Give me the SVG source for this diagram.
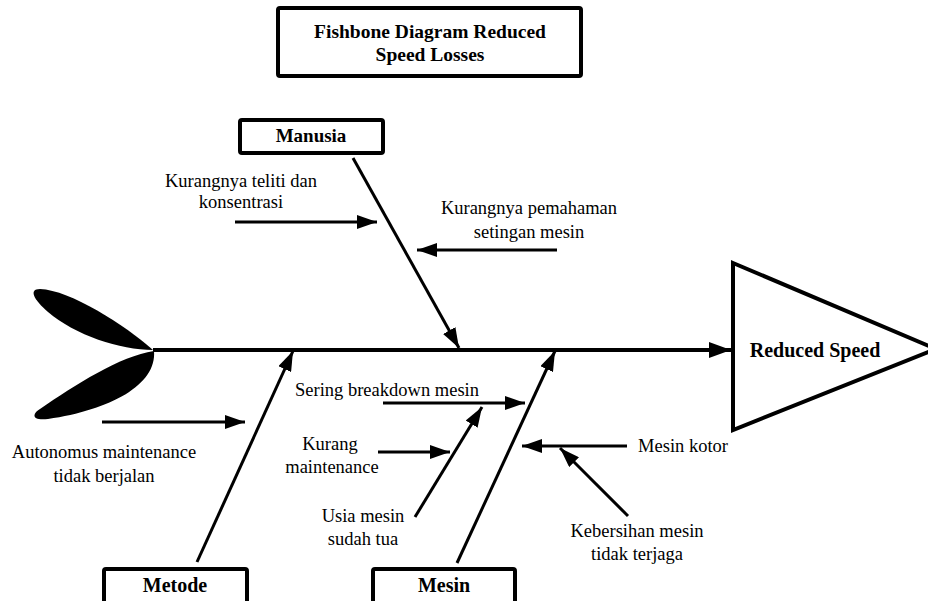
<svg xmlns="http://www.w3.org/2000/svg" width="928" height="601" viewBox="0 0 928 601">
<defs>
<style>
.box{fill:#fff;stroke:#000;stroke-width:4}
.bt{font-family:"Liberation Serif",serif;font-weight:bold;font-size:20px;text-anchor:middle;fill:#000}
.lt{font-family:"Liberation Serif",serif;font-size:18.5px;text-anchor:middle;fill:#000}
.bone{stroke:#000;stroke-width:3;fill:none;marker-end:url(#ah)}
.spine{stroke:#000;stroke-width:4;fill:none;marker-end:url(#ahb)}
</style>
<marker id="ah" markerUnits="userSpaceOnUse" markerWidth="20" markerHeight="14" refX="20" refY="7" orient="auto">
<path d="M0,0 L20,7 L0,14 Z" fill="#000"/>
</marker>
<marker id="ahb" markerUnits="userSpaceOnUse" markerWidth="22" markerHeight="16" refX="22" refY="8" orient="auto">
<path d="M0,0 L22,8 L0,16 Z" fill="#000"/>
</marker>
</defs>
<rect width="928" height="601" fill="#fff"/>

<g id="title">
<rect class="box" x="278" y="8" width="303" height="68" rx="2"/>
<text class="bt" x="430" y="38" style="font-size:19.5px">Fishbone Diagram Reduced</text>
<text class="bt" x="430" y="61" style="font-size:19.5px">Speed Losses</text>
</g>

<g id="tail">
<path d="M153,350 C125,325 70,290 40,289 C28,289 34,300 48,312 C75,335 120,350 153,350 Z" fill="#000"/>
<path d="M154,351 C157,385 110,410 48,419 C30,421 33,413 40,409 C75,385 120,356 154,351 Z" fill="#000"/>
</g>

<g id="head">
<path d="M733,263 L936,349 L733,430 Z" fill="#fff" stroke="#000" stroke-width="4" stroke-linejoin="miter"/>
<text class="bt" x="815" y="357">Reduced Speed</text>
</g>

<g id="manusia">
<rect class="box" x="240" y="120" width="143" height="33" rx="2"/>
<text class="bt" x="311" y="142" style="font-size:19px">Manusia</text>
</g>

<g id="metode">
<rect class="box" x="104" y="569" width="143" height="40" rx="2"/>
<text class="bt" x="175" y="592">Metode</text>
</g>

<g id="mesin">
<rect class="box" x="373" y="569" width="142" height="40" rx="2"/>
<text class="bt" x="444" y="592">Mesin</text>
</g>

<g id="connectors">
<line class="spine" x1="153" y1="350" x2="731" y2="350"/>
<line class="bone" x1="353" y1="158" x2="459" y2="348"/>
<line class="bone" x1="197" y1="562" x2="293" y2="351"/>
<line class="bone" x1="457" y1="563" x2="555" y2="351"/>
<line class="bone" x1="235" y1="222" x2="377" y2="222"/>
<line class="bone" x1="557" y1="250" x2="417" y2="250"/>
<line class="bone" x1="102" y1="422" x2="245" y2="422"/>
<line class="bone" x1="383" y1="403" x2="525" y2="403"/>
<line class="bone" x1="378" y1="452" x2="450" y2="452"/>
<line class="bone" x1="415" y1="517" x2="482" y2="407"/>
<line class="bone" x1="627" y1="446" x2="522" y2="446"/>
<line class="bone" x1="628" y1="516" x2="560" y2="448"/>
</g>

<g id="labels">
<text class="lt" x="241" y="187">Kurangnya teliti dan</text>
<text class="lt" x="241" y="208">konsentrasi</text>
<text class="lt" x="529" y="214">Kurangnya pemahaman</text>
<text class="lt" x="529" y="238">setingan mesin</text>
<text class="lt" x="104" y="458">Autonomus maintenance</text>
<text class="lt" x="104" y="482">tidak berjalan</text>
<text class="lt" x="387" y="396">Sering breakdown mesin</text>
<text class="lt" x="330" y="450">Kurang</text>
<text class="lt" x="332" y="473">maintenance</text>
<text class="lt" x="363" y="522">Usia mesin</text>
<text class="lt" x="363" y="545">sudah tua</text>
<text class="lt" x="683" y="452">Mesin kotor</text>
<text class="lt" x="637" y="537">Kebersihan mesin</text>
<text class="lt" x="637" y="560">tidak terjaga</text>
</g>
</svg>
